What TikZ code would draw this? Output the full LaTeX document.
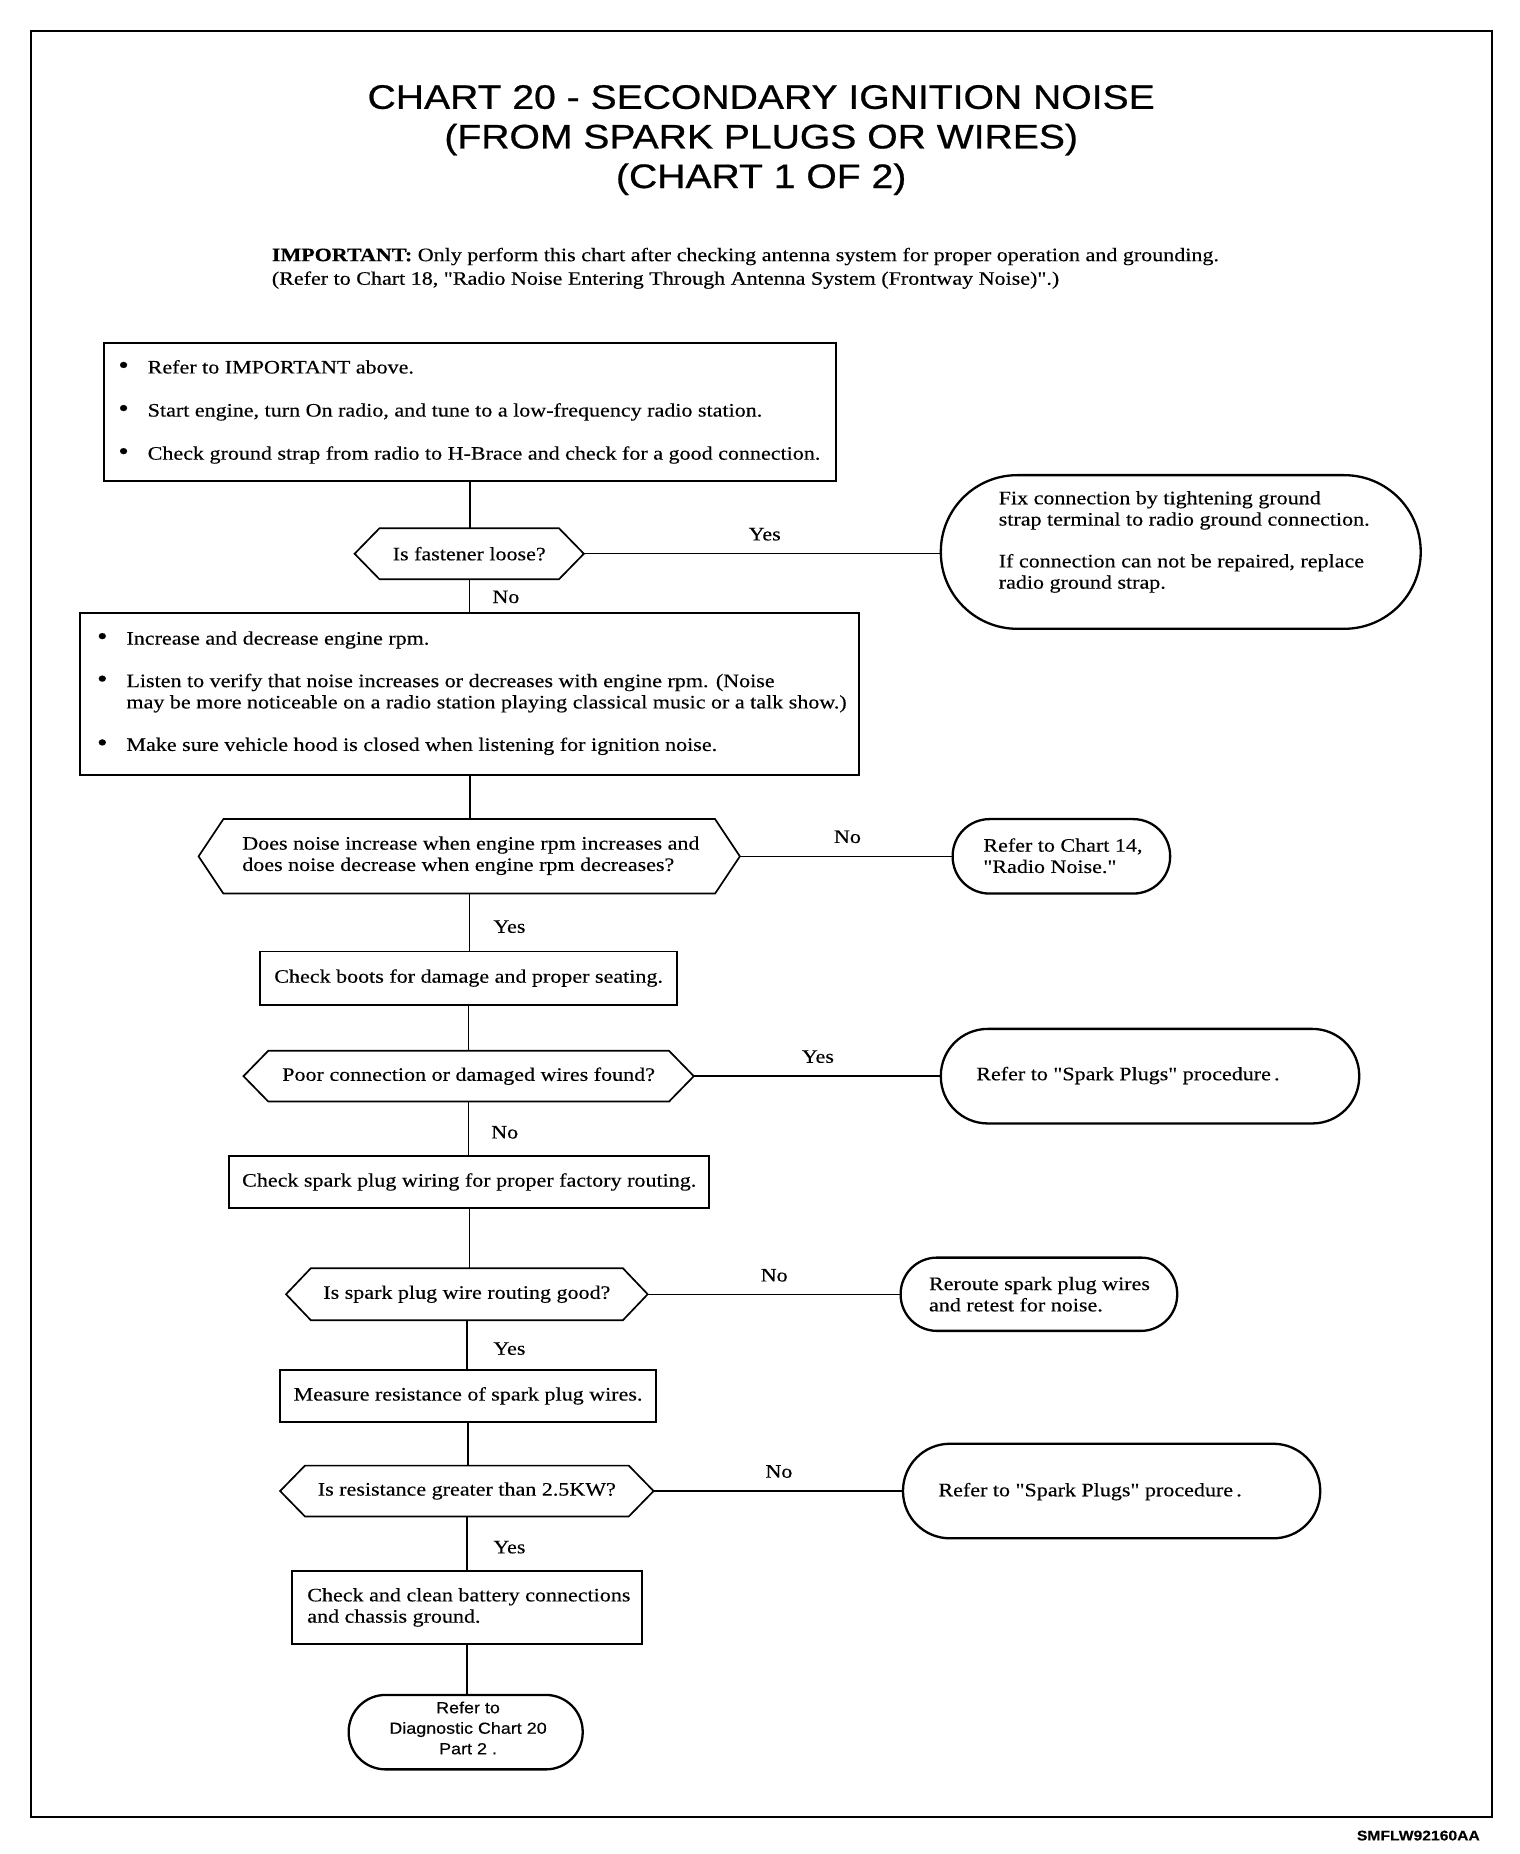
\documentclass[tikz,border=0pt]{standalone}
\usepackage{fontspec}
\setmainfont{Liberation Serif}[FakeStretch=1.16, FakeBold=0.3, Ligatures=TeXOff]
\newfontfamily\titlefont{Liberation Sans}[FakeStretch=1.15, FakeBold=0.7]
\newfontfamily\sansfont{Liberation Sans}[FakeStretch=1.12, FakeBold=0.3]
\newdimen\UU \UU=1.18196pt
\newcommand\bodysize{\fontsize{19}{21.3}\selectfont}
\newcommand\bul{\makebox[24\UU][l]{\hspace*{-1pt}\scalebox{1.35}{\textbullet}}}
\newcommand\hexdraw[1]{\draw[hexline] (#1.west) -- ([xshift=21*\UU]#1.north west) -- ([xshift=-21*\UU]#1.north east) -- (#1.east) -- ([xshift=-21*\UU]#1.south east) -- ([xshift=21*\UU]#1.south west) -- cycle;}
\begin{document}
\begin{tikzpicture}[x=1.18196pt,y=-1.18196pt,
  every node/.style={inner sep=0pt, outer sep=0pt},
  boxS/.style={draw, rectangle, line width=1.9pt, font=\bodysize},
  hexS/.style={rectangle, font=\bodysize},
  hexline/.style={line width=1.7pt, line join=miter},
  ovalS/.style={draw, rectangle, line width=2.3pt, rounded corners=#1},
  txt/.style={font=\bodysize, align=left},
  lbl/.style={font=\bodysize},
  conn/.style={line width=1.4pt}]
\useasboundingbox (0,0) rectangle (1286,1568.6);
\draw[line width=1.9pt] (26,26) rectangle (1262,1537);

\node[align=center, font=\titlefont\fontsize{34}{39.6}\selectfont] (title) at (644,118.5)
  {CHART 20 - SECONDARY IGNITION NOISE\\(FROM SPARK PLUGS OR WIRES)\\(CHART 1 OF 2)};
\node[txt, anchor=west] (imp) at (230,227)
  {\textbf{IMPORTANT:} Only perform this chart after checking antenna system for proper operation and grounding.\\[2.3pt]
   (Refer to Chart 18, "Radio Noise Entering Through Antenna System (Frontway Noise)".)};
\node[anchor=east, font=\sansfont\bfseries\fontsize{14}{16}\selectfont] (code) at (1252,1553) {SMFLW92160AA};

% shapes
\node[boxS, minimum width=619*\UU, minimum height=117*\UU] (b1) at (397.5,348.5) {};
\node[hexS, minimum width=194*\UU, minimum height=43*\UU] (d1) at (397,468.5) {Is fastener loose?};
\node[ovalS=64.7*\UU, minimum width=406*\UU, minimum height=130*\UU] (o1) at (999,467) {};
\node[boxS, minimum width=659*\UU, minimum height=137*\UU] (b2) at (397.5,587.5) {};
\node[hexS, minimum width=458*\UU, minimum height=63*\UU] (d2) at (397,724.5) {};
\node[ovalS=31.2*\UU, minimum width=184*\UU, minimum height=63*\UU] (o2) at (898,724.5) {};
\node[boxS, minimum width=353*\UU, minimum height=45*\UU] (b3) at (396.5,827.5) {Check boots for damage and proper seating.};
\node[hexS, minimum width=381*\UU, minimum height=43*\UU] (d3) at (396.5,910.5) {Poor connection or damaged wires found?};
\node[ovalS=39.7*\UU, minimum width=354*\UU, minimum height=80*\UU] (o3) at (973,910.5) {};
\node[boxS, minimum width=406*\UU, minimum height=44*\UU] (b4) at (397,1000) {Check spark plug wiring for proper factory routing.};
\node[hexS, minimum width=306*\UU, minimum height=44*\UU] (d4) at (395,1095) {Is spark plug wire routing good?};
\node[ovalS=30.7*\UU, minimum width=234*\UU, minimum height=62*\UU] (o4) at (879,1095) {};
\node[boxS, minimum width=318*\UU, minimum height=44*\UU] (b5) at (396,1181) {Measure resistance of spark plug wires.};
\node[hexS, minimum width=316*\UU, minimum height=43*\UU] (d5) at (395,1261.5) {Is resistance greater than 2.5KW?};
\node[ovalS=39.7*\UU, minimum width=353*\UU, minimum height=80*\UU] (o5) at (940.5,1261.5) {};
\node[boxS, minimum width=296*\UU, minimum height=62*\UU] (b6) at (395,1360) {};
\node[ovalS=31.2*\UU, minimum width=198*\UU, minimum height=63*\UU] (o6) at (394,1465.5) {};

\hexdraw{d1}
\hexdraw{d2}
\hexdraw{d3}
\hexdraw{d4}
\hexdraw{d5}

% texts inside shapes
\node[txt, anchor=west] (t1) at (101,348.5)
  {\bul Refer to IMPORTANT above.\\[21.8pt]
   \bul Start engine, turn On radio, and tune to a low-frequency radio station.\\[21.8pt]
   \bul Check ground strap from radio to H-Brace and check for a good connection.};
\node[txt, anchor=west] (t2) at (83,586.5)
  {\bul Increase and decrease engine rpm.\\[21.2pt]
   \bul Listen to verify that noise increases or decreases with engine rpm. (Noise\\
   \hspace*{24\UU}may be more noticeable on a radio station playing classical music or a talk show.)\\[21.2pt]
   \bul Make sure vehicle hood is closed when listening for ignition noise.};
\node[txt, anchor=west] (t3) at (845,458.5)
  {Fix connection by tightening ground\\
   strap terminal to radio ground connection.\\[20.5pt]
   If connection can not be repaired, replace\\
   radio ground strap.};
\node[txt, anchor=west] (t4) at (205,724)
  {Does noise increase when engine rpm increases and\\
   does noise decrease when engine rpm decreases?};
\node[txt, anchor=west] (t5) at (832,724) {Refer to Chart 14,\\"Radio Noise."};
\node[txt, anchor=west] (t6) at (826,910) {Refer to "Spark Plugs" procedure\,.};
\node[txt, anchor=west] (t7) at (786,1095) {Reroute spark plug wires\\and retest for noise.};
\node[txt, anchor=west] (t8) at (794,1262) {Refer to "Spark Plugs" procedure\,.};
\node[txt, anchor=west] (t9) at (260,1360) {Check and clean battery connections\\and chassis ground.};
\node[align=center, font=\sansfont\fontsize{16}{20.5}\selectfont] (t10) at (396,1462)
  {Refer to\\Diagnostic Chart 20\\Part 2 .};

% connectors
\draw[conn] (b1.south) -- (b1.south |- d1.north);
\draw[conn] (d1.south) -- (d1.south |- b2.north);
\draw[conn] (d1.east) -- (d1.east -| o1.west);
\draw[conn] (b2.south) -- (b2.south |- d2.north);
\draw[conn] (d2.east) -- (d2.east -| o2.west);
\draw[conn] (d2.south) -- (d2.south |- b3.north);
\draw[conn] (b3.south) -- (b3.south |- d3.north);
\draw[conn] (d3.east) -- (d3.east -| o3.west);
\draw[conn] (d3.south) -- (d3.south |- b4.north);
\draw[conn] (b4.south) -- (b4.south |- d4.north);
\draw[conn] (d4.east) -- (d4.east -| o4.west);
\draw[conn] (d4.south) -- (d4.south |- b5.north);
\draw[conn] (b5.south) -- (b5.south |- d5.north);
\draw[conn] (d5.east) -- (d5.east -| o5.west);
\draw[conn] (d5.south) -- (d5.south |- b6.north);
\draw[conn] (b6.south) -- (b6.south |- o6.north);

% labels
\node[lbl] (l1) at (647,452) {Yes};
\node[lbl] (l2) at (428,505) {No};
\node[lbl] (l3) at (717,708) {No};
\node[lbl] (l4) at (431,784) {Yes};
\node[lbl] (l5) at (692,894) {Yes};
\node[lbl] (l6) at (427,958) {No};
\node[lbl] (l7) at (655,1079) {No};
\node[lbl] (l8) at (431,1141) {Yes};
\node[lbl] (l9) at (659,1245) {No};
\node[lbl] (l10) at (431,1309) {Yes};
\end{tikzpicture}
\end{document}
